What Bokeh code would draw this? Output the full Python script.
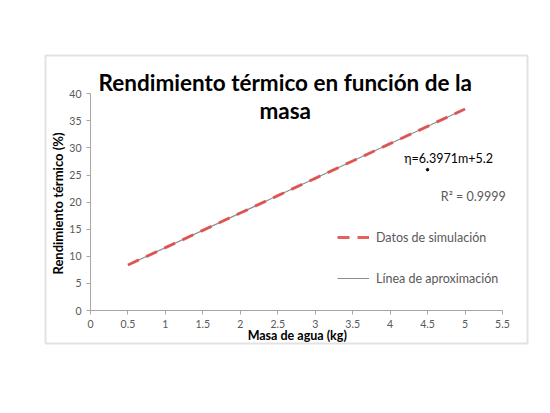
from bokeh.plotting import figure
from bokeh.models import Range1d, Label, Legend, LegendItem, BoxAnnotation, FixedTicker, LinearAxis
from bokeh.embed import file_html
from bokeh.resources import INLINE

# data
masa = [0.5, 1.0, 1.5, 2.0, 2.5, 3.0, 3.5, 4.0, 4.5, 5.0]
rend_sim = [8.4, 11.6, 14.8, 18.0, 21.2, 24.4, 27.6, 30.8, 34.0, 37.2]
masa_fit = [0.5, 5.0]
rend_fit = [8.4, 37.2]
x_ticks = [0, 0.5, 1, 1.5, 2, 2.5, 3, 3.5, 4, 4.5, 5, 5.5]
y_ticks = [0, 5, 10, 15, 20, 25, 30, 35, 40]
dot_x = [4.5]
dot_y = [26.0]

FONT = "Lato"
GREY = "#595959"
W, H = 545, 405
X0, Y0 = 90.0, 310.0      # pixel of data origin
SX, SY = 74.9, 5.4167     # pixels per unit

p = figure(width=W, height=H, output_backend="svg", toolbar_location=None,
           x_range=Range1d(-X0 / SX, (W - X0) / SX),
           y_range=Range1d(-(H - Y0) / SY, Y0 / SY),
           x_axis_location=None, y_axis_location=None, min_border=0)
p.xgrid.visible = False
p.ygrid.visible = False
p.outline_line_color = None
p.background_fill_color = "white"
p.border_fill_color = "white"

xax = LinearAxis(fixed_location=0, bounds=(0, 5.5), ticker=FixedTicker(ticks=x_ticks))
yax = LinearAxis(fixed_location=0, bounds=(0, 40), ticker=FixedTicker(ticks=y_ticks))
for ax in (xax, yax):
    ax.axis_line_color = "#a6a6a6"
    ax.major_tick_line_color = "#a6a6a6"
    ax.minor_tick_line_color = None
    ax.major_tick_in = 0
    ax.major_tick_out = 4
    ax.major_label_text_font = FONT
    ax.major_label_text_font_size = "10.5px"
    ax.major_label_text_color = GREY
p.add_layout(xax, "below")
p.add_layout(yax, "left")

r_fit = p.line(masa_fit, rend_fit, line_color="#8c8c8c", line_width=1.2)
r_sim = p.line(masa, rend_sim, line_color="#e24444", line_width=3, line_dash="12 8", line_alpha=0.85)
p.scatter(dot_x, dot_y, size=2.5, color="black")

legend = Legend(items=[LegendItem(label="Datos de simulación", renderers=[r_sim]),
                       LegendItem(label="Línea de aproximación", renderers=[r_fit])],
                location=(247 + 90, H - 288), orientation="vertical", spacing=21,
                glyph_width=32, glyph_height=20, label_height=20, label_standoff=7,
                padding=0, margin=0, border_line_color=None, background_fill_alpha=0,
                label_text_font=FONT, label_text_font_size="12.5px", label_text_color=GREY)
p.add_layout(legend, "center")

p.add_layout(Label(x=2.6, y=42.1, text="Rendimiento térmico en función de la",
                   text_font=FONT, text_font_style="bold", text_font_size="22.5px",
                   text_align="center", text_baseline="middle", text_color="black"))
p.add_layout(Label(x=2.6, y=37.0, text="masa",
                   text_font=FONT, text_font_style="bold", text_font_size="22.5px",
                   text_align="center", text_baseline="middle", text_color="black"))
p.add_layout(Label(x=-0.44, y=19.75, text="Rendimiento térmico (%)", angle=1.5708,
                   text_font=FONT, text_font_style="bold", text_font_size="13px",
                   text_align="center", text_baseline="middle", text_color="black"))
p.add_layout(Label(x=2.76, y=-4.6, text="Masa de agua (kg)",
                   text_font=FONT, text_font_style="bold", text_font_size="12.5px",
                   text_align="center", text_baseline="middle", text_color="black"))
p.add_layout(Label(x=4.78, y=28.1, text="η=6.3971m+5.2",
                   text_font=FONT, text_font_size="12.5px",
                   text_align="center", text_baseline="middle", text_color="black"))
p.add_layout(Label(x=5.11, y=21.0, text="R² = 0.9999",
                   text_font=FONT, text_font_size="12.5px",
                   text_align="center", text_baseline="middle", text_color=GREY))

p.add_layout(BoxAnnotation(left=(45 - X0) / SX, right=(527 - X0) / SX,
                           top=(Y0 - 55) / SY, bottom=(Y0 - 343) / SY,
                           fill_alpha=0, line_color="#a0a0a0", line_width=2))

open("out.html", "w").write(file_html(p, INLINE))
